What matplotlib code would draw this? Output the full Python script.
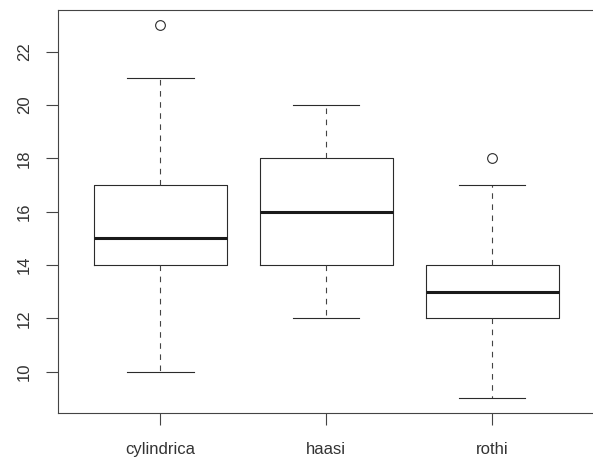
import matplotlib
matplotlib.use("Agg")
import matplotlib.pyplot as plt

# five-number summaries per species
species = ["cylindrica", "haasi", "rothi"]
whisker_lo = [10, 12, 9]
q1 = [14, 14, 12]
median = [15, 16, 13]
q3 = [17, 18, 14]
whisker_hi = [21, 20, 17]
outliers = [[23], [], [18]]

y_ticks = [10, 12, 14, 16, 18, 20, 22]

plt.rcParams['font.family'] = ['Liberation Sans', 'DejaVu Sans']

stats = []
for i, name in enumerate(species):
    stats.append({
        'label': name,
        'whislo': whisker_lo[i],
        'q1': q1[i],
        'med': median[i],
        'q3': q3[i],
        'whishi': whisker_hi[i],
        'fliers': outliers[i],
    })

fig = plt.figure(figsize=(5.93, 4.62), dpi=100)
ax = fig.add_axes([0.097, 0.1054, 0.9064, 0.873])

line_col = '#2b2b2b'
ax.bxp(stats, positions=[1, 2, 3], widths=0.8,
       boxprops=dict(color=line_col, linewidth=0.8),
       medianprops=dict(color='#1a1a1a', linewidth=2.2, solid_capstyle='butt'),
       whiskerprops=dict(color='#444444', linewidth=0.8, linestyle=(0, (5, 5))),
       capprops=dict(color=line_col, linewidth=0.8),
       capwidths=0.4,
       flierprops=dict(marker='o', markerfacecolor='none', markeredgecolor=line_col,
                       markersize=7, markeredgewidth=0.8))

ax.set_xlim(0.38, 3.62)
ax.set_ylim(8.44, 23.56)
ax.set_yticks(y_ticks)
ax.set_yticklabels([str(v) for v in y_ticks], rotation=90, va='center')
ax.set_xticks([1, 2, 3])
ax.set_xticklabels(species)

ax.tick_params(direction='out', length=8.5, width=0.8, color='#444444',
               labelsize=12, labelcolor='#333333')
ax.tick_params(axis='x', pad=12)
ax.tick_params(axis='y', pad=10)
for sp in ax.spines.values():
    sp.set_color('#444444')
    sp.set_linewidth(0.8)

fig.savefig("out.png", dpi=100)
